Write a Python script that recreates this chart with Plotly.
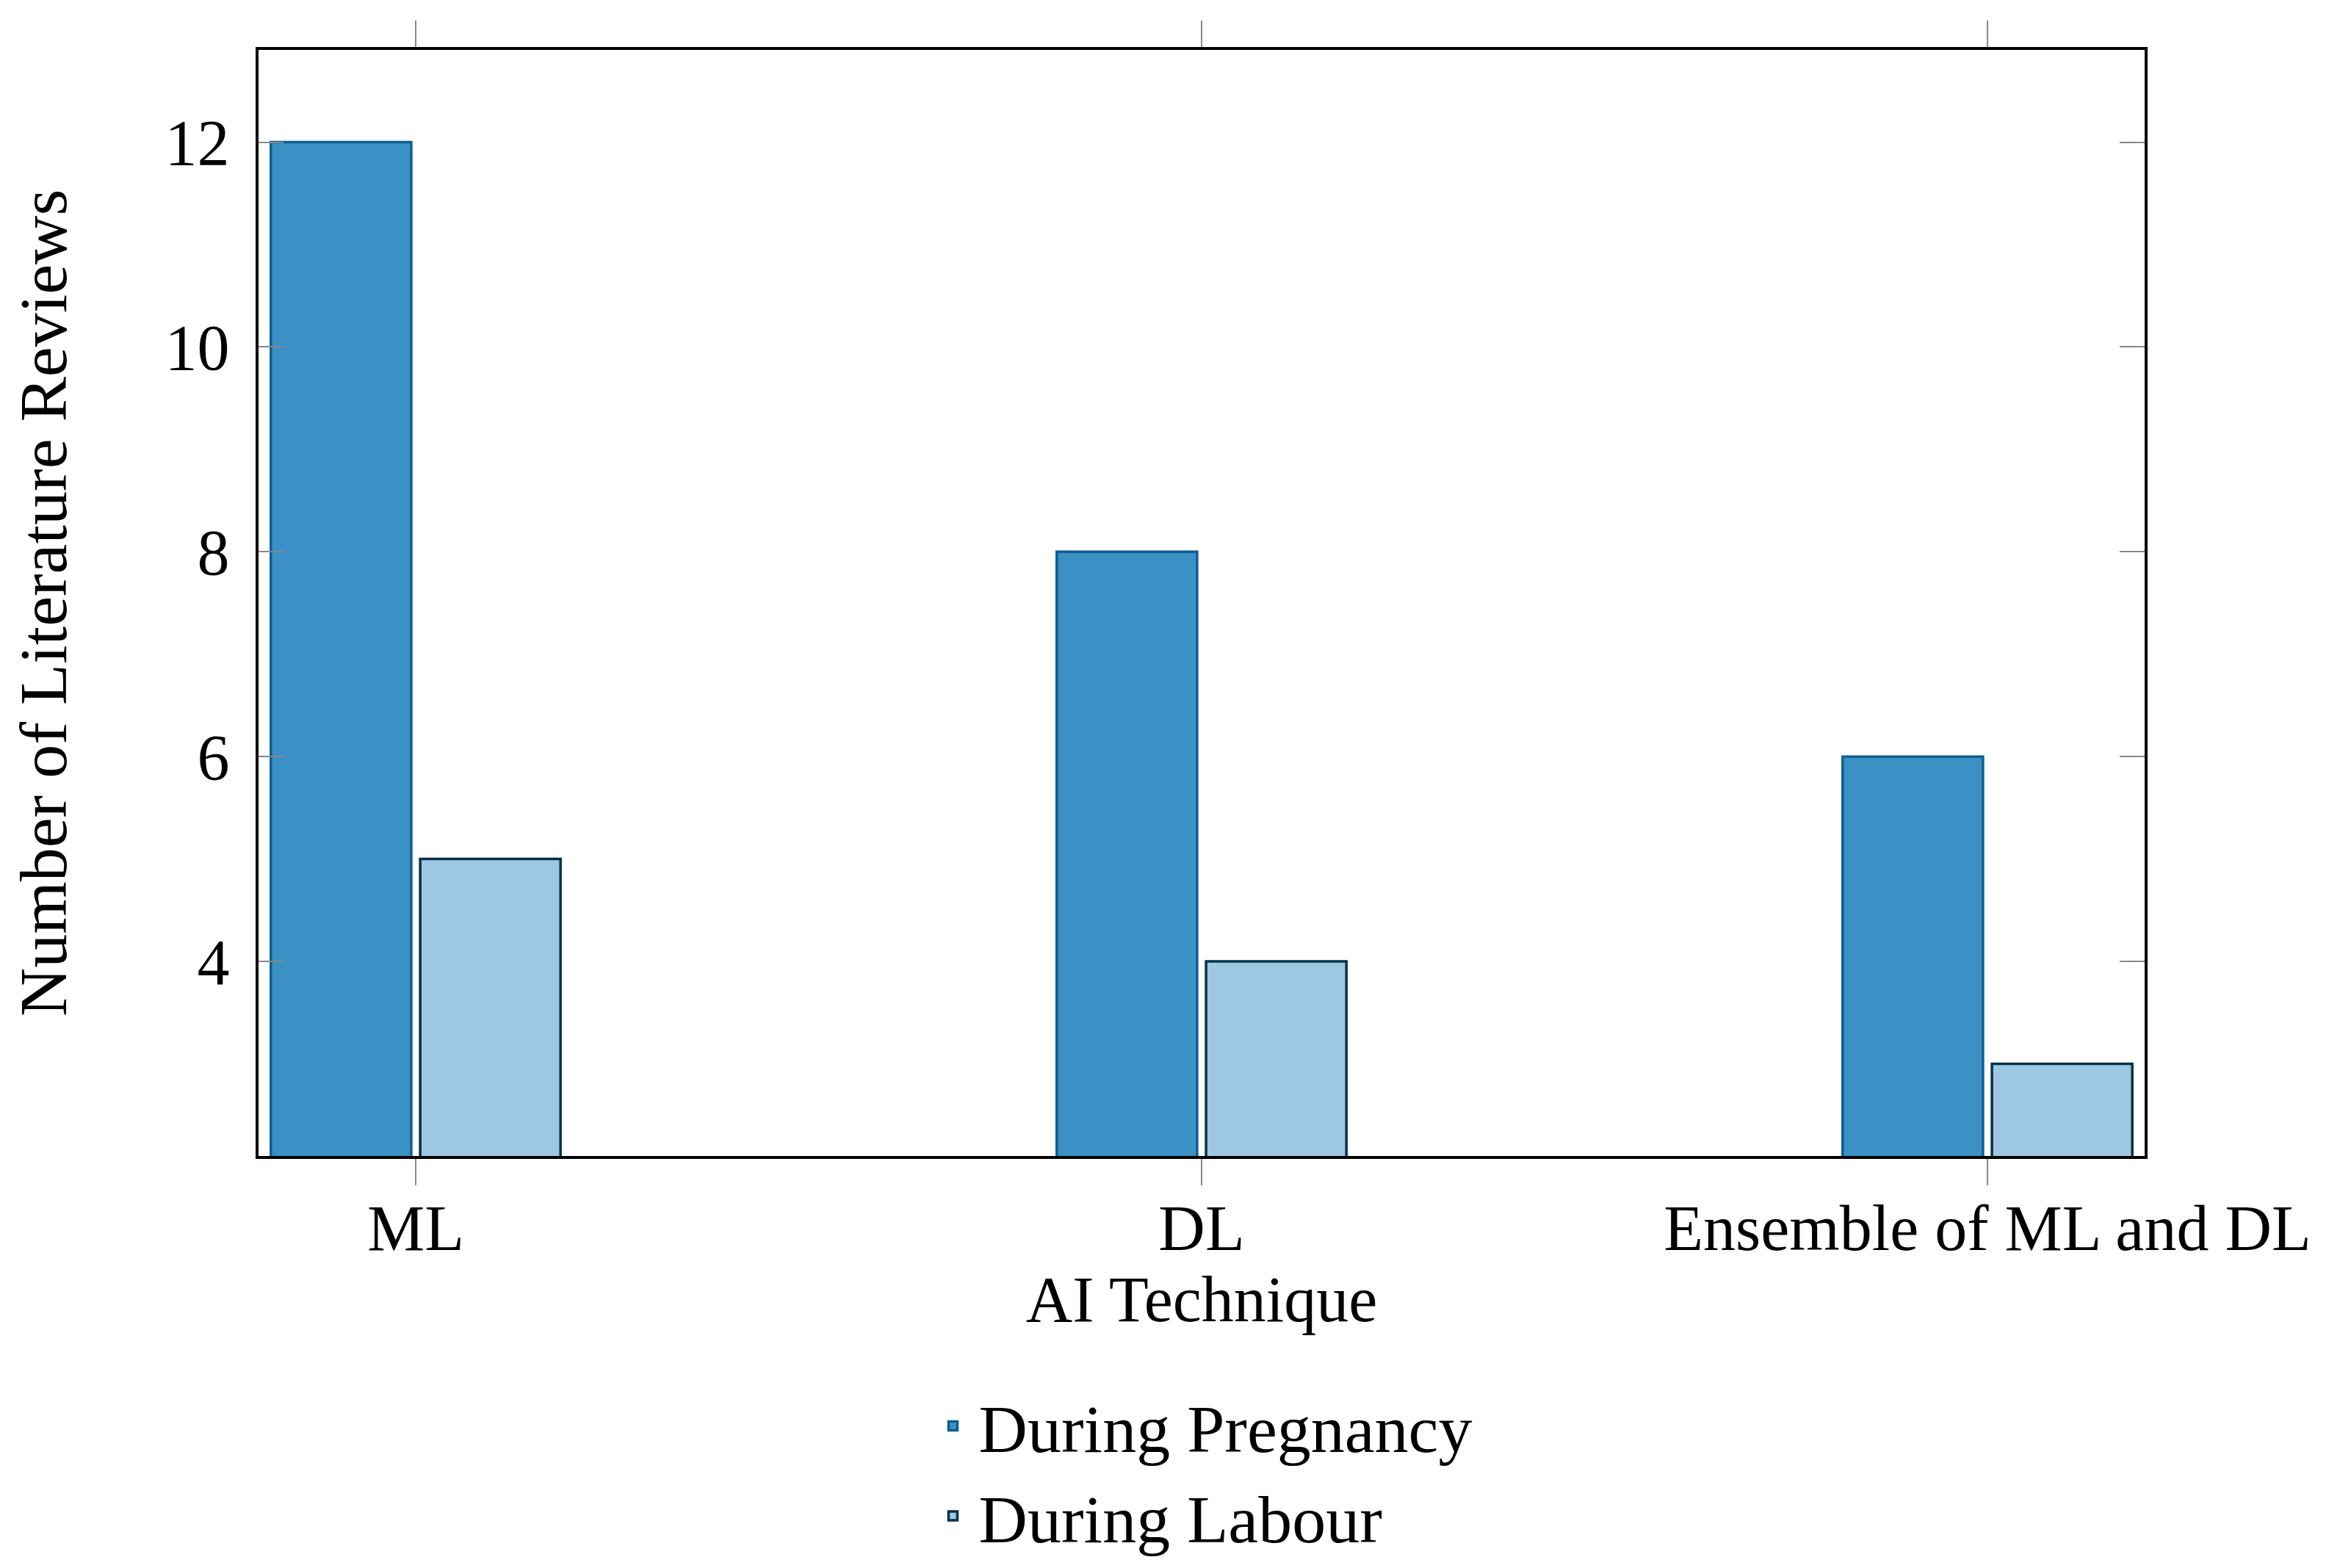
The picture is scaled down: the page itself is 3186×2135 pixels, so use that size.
import plotly.graph_objects as go

categories = ["ML", "DL", "Ensemble of ML and DL"]
pregnancy = [12, 8, 6]
labour = [5, 4, 3]
y_ticks = [4, 6, 8, 10, 12]

FONT = "Liberation Serif"
FS = 88

fig = go.Figure()
fig.add_trace(go.Bar(
    x=categories, y=pregnancy, name="During Pregnancy",
    marker=dict(color="#3B91C5", line=dict(color="#0D5E94", width=3.5)),
))
fig.add_trace(go.Bar(
    x=categories, y=labour, name="During Labour",
    marker=dict(color="#9EC8E1", line=dict(color="#08304D", width=3.5)),
))

fig.update_layout(
    width=3186, height=2135,
    margin=dict(l=344, r=274, t=60, b=543),
    paper_bgcolor="white", plot_bgcolor="white",
    font=dict(family=FONT, size=FS, color="black"),
    barmode="group", bargap=0.62, bargroupgap=0.06,
    showlegend=True,
    legend=dict(
        orientation="v", x=0.5, xanchor="center", y=-0.2, yanchor="top",
        font=dict(family=FONT, size=92), bgcolor="rgba(0,0,0,0)",
        itemwidth=60,
    ),
)
fig.update_xaxes(
    type="category", range=[-0.2, 2.2],
    showline=True, linecolor="black", linewidth=4, mirror="ticks",
    ticks="outside", ticklen=36, tickwidth=2, tickcolor="#888888",
    showgrid=False, zeroline=False,
    tickfont=dict(family=FONT, size=FS),
    ticklabelstandoff=-18,
    title=dict(text="AI Technique", font=dict(family=FONT, size=FS), standoff=0),
)
fig.update_yaxes(
    range=[2.1, 12.9], tickvals=y_ticks,
    showline=True, linecolor="black", linewidth=4, mirror="ticks",
    ticks="inside", ticklen=34, tickwidth=2, tickcolor="#888888",
    showgrid=False, zeroline=False,
    tickfont=dict(family=FONT, size=FS),
    ticklabelstandoff=18,
    title=dict(text="Number of Literature Reviews", font=dict(family=FONT, size=92), standoff=110),
)

fig.write_html("out.html")
